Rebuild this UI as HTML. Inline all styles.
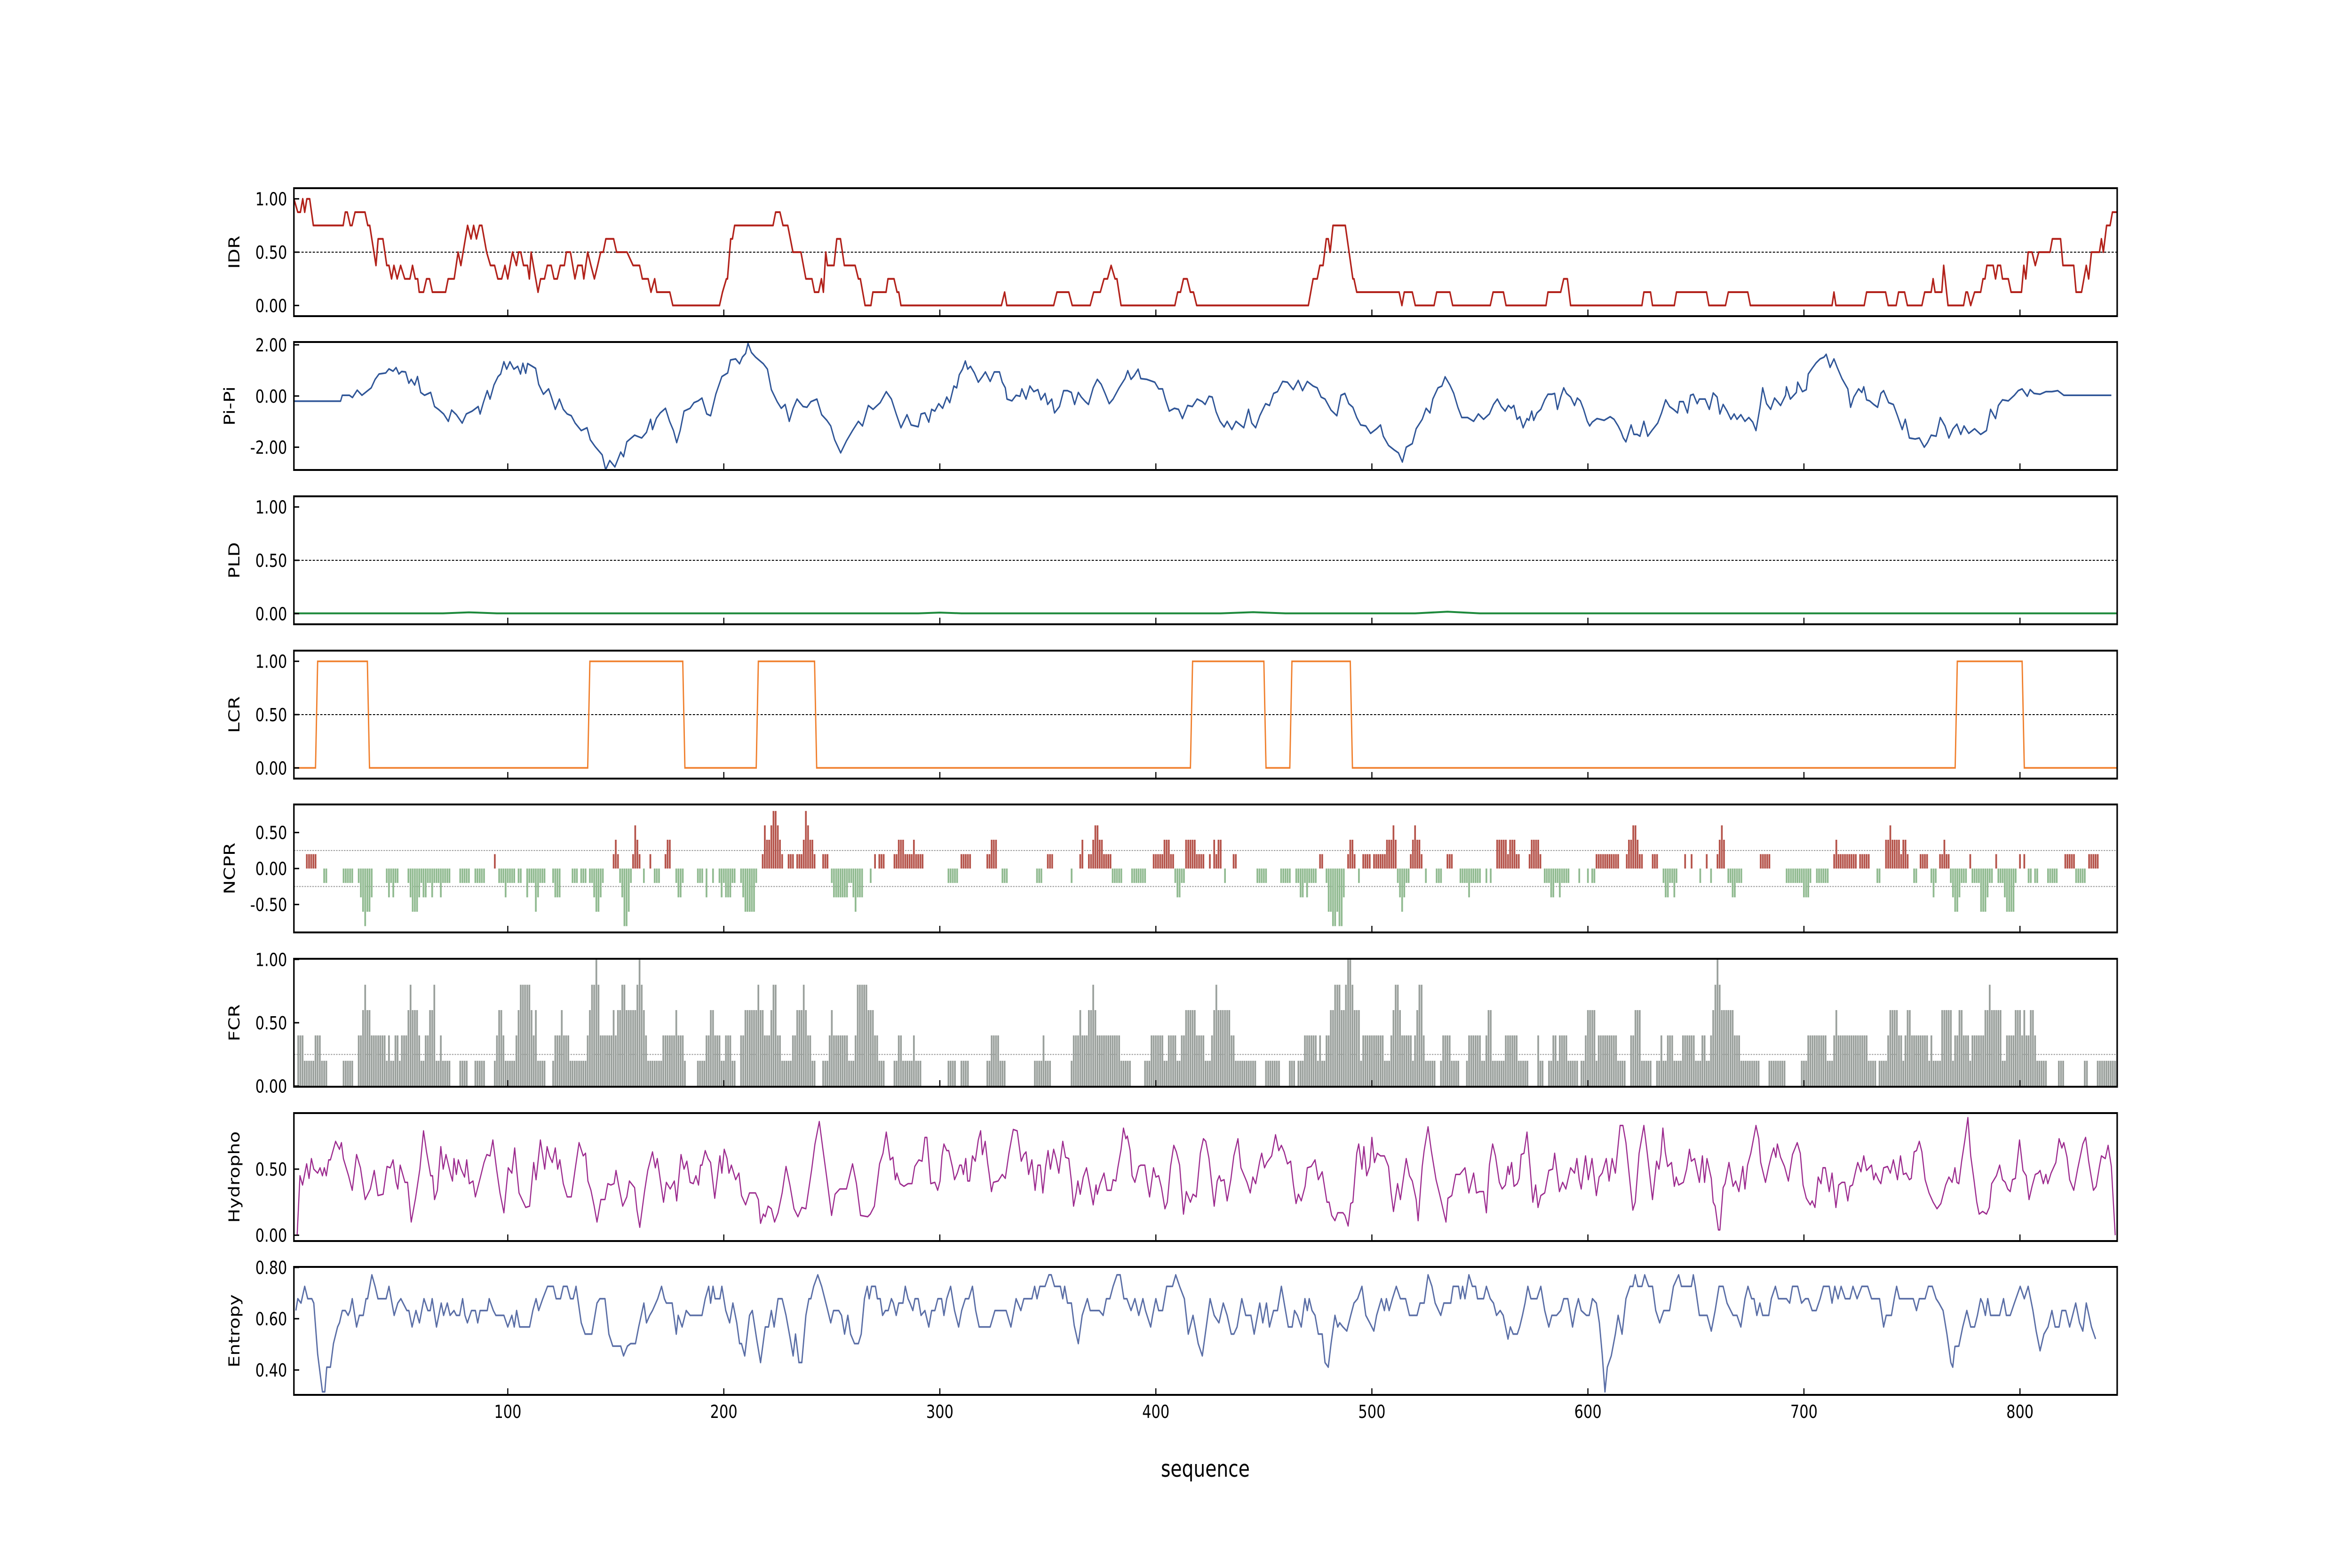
<!DOCTYPE html>
<html><head><meta charset="utf-8"><title>Sequence feature profiles</title>
<style>
html,body{margin:0;padding:0;background:#fff;width:100%;height:100%;overflow:hidden;}
svg{display:block;width:100vw;height:100vh;font-family:"DejaVu Sans","Liberation Sans",sans-serif;}
</style></head>
<body>
<svg id="chart" xmlns="http://www.w3.org/2000/svg" viewBox="0 0 6250 3333" preserveAspectRatio="none">
<rect x="0" y="0" width="6250" height="3333" fill="#ffffff"/>
</svg>
<script>
// ---------- data ----------
const panelTitles = ["IDR","Pi-Pi","PLD","LCR","NCPR","FCR","Hydropho","Entropy"];
const xTickValues = [100,200,300,400,500,600,700,800];
const yTickValues = [[0,0.5,1],[-2,0,2],[0,0.5,1],[0,0.5,1],[-0.5,0,0.5],[0,0.5,1],[0,0.5],[0.4,0.6,0.8]];
const yTickLabels = [["0.00","0.50","1.00"],["-2.00","0.00","2.00"],["0.00","0.50","1.00"],["0.00","0.50","1.00"],["-0.50","0.00","0.50"],["0.00","0.50","1.00"],["0.00","0.50"],["0.40","0.60","0.80"]];
const yLimits = [[-0.1,1.1],[-2.89,2.11],[-0.1,1.1],[-0.1,1.1],[-0.888,0.89],[-0.005,1.005],[-0.044,0.924],[0.303,0.802]];
const refLines = [[0.5],[],[0.5],[0.5],[-0.25,0.25],[0.25],[],[]];

const idrResidue = [1,2.8,4,5.1,6,7,8.3,10,23.8,24.8,25.7,27.1,27.9,29.3,33.9,35.2,36.1,39,40,42.2,44,45,46.2,47.3,48.8,50.4,52.3,54.7,55.9,57.2,58.3,59,61,62.4,63.8,65.1,71.2,72.4,75.2,77,78.3,81.4,83,84.2,85.5,86.9,88,90.2,92,93.9,95.4,97.2,98.7,100,102.2,104,105,106,107.3,109.1,110,110.8,114,115.2,117,118.3,120.1,121.4,122.9,124.3,126.2,127.1,129,131.1,132.4,134.4,135.2,137,138.5,140.1,141.6,143,144.2,145.4,149,150.4,155.2,158,161,162.3,165,166.3,168,169,175,176.4,198,199.4,201.2,201.7,203.2,204,205,222.8,224,226,227.4,229.6,232,235.7,238,240.8,242,243.9,245.2,246.1,247.2,248,251,252.3,254,255.8,260.8,262.3,263.2,265.4,268.1,269,275.1,276,278.8,280.2,281,282,328.5,330,331,352.7,354.2,359.7,361.3,369.6,371.2,374.3,376,377.6,379.3,381.1,382,383.9,408.8,410.1,411.4,412.8,414.5,416,417.4,418.9,470.6,472.8,474.7,475.9,477.4,478.9,479.8,480.7,482,487.7,491.2,491.7,493,512.6,513.9,515,518.7,520.1,528.8,530,536.1,537.4,554.8,556.1,560.9,562.1,580.6,581.5,587.4,588.8,590.5,592,625,625.9,629,629.9,640,641,654.9,656,663.7,665,674,675.2,713,713.9,714.8,727.9,729,737.8,739,742.7,743.8,746.6,747.9,754.6,755.9,758.9,759.8,760.7,763.8,764.7,766.7,773.9,775,775.7,777.2,779,781.8,782.9,783.8,784.7,787.6,788.7,789.7,791,791.9,794.6,795.9,800.7,801.8,802.7,803.8,805.6,807.1,808.7,813.9,815,818.8,819.9,824.9,826,828.5,830.7,831.8,833.1,836.8,837.7,838.6,840.1,841.7,842.8,845];
const idrValue = [1,0.875,0.875,1,0.875,1,1,0.75,0.75,0.875,0.875,0.75,0.75,0.875,0.875,0.75,0.75,0.375,0.625,0.625,0.375,0.375,0.25,0.375,0.25,0.375,0.25,0.25,0.375,0.25,0.25,0.125,0.125,0.25,0.25,0.125,0.125,0.25,0.25,0.5,0.375,0.75,0.625,0.75,0.625,0.75,0.75,0.5,0.375,0.375,0.25,0.25,0.375,0.25,0.5,0.375,0.5,0.5,0.375,0.375,0.25,0.5,0.125,0.25,0.25,0.375,0.375,0.25,0.25,0.375,0.375,0.5,0.5,0.25,0.375,0.375,0.25,0.5,0.375,0.25,0.375,0.5,0.5,0.625,0.625,0.5,0.5,0.375,0.375,0.25,0.25,0.125,0.25,0.125,0.125,0,0,0.125,0.25,0.25,0.625,0.625,0.75,0.75,0.875,0.875,0.75,0.75,0.5,0.5,0.25,0.25,0.125,0.125,0.25,0.125,0.5,0.375,0.375,0.625,0.625,0.375,0.375,0.25,0.25,0,0,0.125,0.125,0.25,0.25,0.125,0.125,0,0,0.125,0,0,0.125,0.125,0,0,0.125,0.125,0.25,0.25,0.375,0.25,0.25,0,0,0.125,0.125,0.25,0.25,0.125,0.125,0,0,0.25,0.25,0.375,0.375,0.625,0.625,0.5,0.75,0.75,0.25,0.25,0.125,0.125,0,0.125,0.125,0,0,0.125,0.125,0,0,0.125,0.125,0,0,0.125,0.125,0.25,0.25,0,0,0.125,0.125,0,0,0.125,0.125,0,0,0.125,0.125,0,0,0.125,0,0,0.125,0.125,0,0,0.125,0.125,0,0,0.125,0.125,0.25,0.125,0.125,0.375,0,0,0.125,0.125,0,0.125,0.125,0.25,0.25,0.375,0.375,0.25,0.375,0.375,0.25,0.25,0.125,0.125,0.375,0.25,0.5,0.5,0.375,0.5,0.5,0.625,0.625,0.375,0.375,0.125,0.125,0.375,0.25,0.5,0.5,0.625,0.5,0.75,0.75,0.875,0.875];

const pipiResidue = [1,22.6,23.4,26.7,28.1,30.3,32.5,34.9,36.8,38.6,40.4,43.5,45,46.9,48.3,49.6,50.9,52.7,54.2,55.3,56.9,58.2,59.7,61.5,64.3,66.1,67.9,70.3,72.5,74,76.2,78.9,80.8,83.5,86.3,87.2,88.7,90.5,91.8,93.6,95.5,96.7,98.2,99.5,101,102.8,104.6,105.9,107,108.3,109.2,112.9,114.3,116.5,118.9,120.2,122,123.9,125.7,127.5,129.4,131.2,134,136.7,138.2,140.4,143.7,145.3,147.2,149.6,152.3,153.6,155.1,158.7,162,164.2,166.1,167,168.8,170.6,173,174.9,176.7,178.2,179.8,181.6,184.4,186.2,188.1,189.9,192.1,193.9,196.3,199.1,201.8,203.1,205.5,207.3,208.6,210.1,211.2,212.8,214.7,218.3,220.2,222,224.7,226.6,228.4,230.3,232.1,233.9,236.7,238.5,240.3,243.1,245.3,247.7,249.5,251.3,254.1,256.8,259.6,262.3,264.2,266.9,269.1,272.4,275.2,277.6,279.8,282,
283,284.8,286.7,290,291.3,293.1,294.9,296.2,297.7,299.5,301.3,303.2,304.6,306.5,307.8,309,310.5,311.8,312.9,314.2,316,317.8,319.7,321.1,323.3,325.2,327.6,328.9,330.3,331.1,333.4,335.3,337.1,338,339.9,341.7,343.5,345.4,346.8,348.7,349.9,351.8,353.1,355.4,357.3,359.1,360.9,362.4,364.1,365.5,367.4,368.8,371,372.9,374.7,376.5,378.4,380.2,383,385.7,387,388.5,389.9,391.8,393,395.8,399.5,401.3,403.1,404.4,406.2,408.6,410.5,412.3,414.7,416.9,419.1,421.5,422.8,424.6,426.1,427.9,429.7,431.6,433,435.2,437.1,440.7,442.9,444.4,446.2,448.1,450.8,452.6,454.5,456.3,458.7,460.9,463.6,465.9,467.9,470.1,472.8,474.7,476.5,478.3,481.1,483.8,485.7,487.5,489.3,491.2,493,494.8,497.2,499.4,502.2,504,505.3,507.7,510.4,512.3,514.1,515.9,518.7,520.5,523.3,525.1,526.9,528.2,530.6,532.4,533.9,536.1,537.9,539.8,541.6,544.3,547.1,549.3,551.7,554.4,556.3,558.1,559.9,
561.7,563.2,564.5,565.7,567.2,568.5,570,571.8,572.7,574,574.9,576.4,578.2,580,581.5,583.3,584.6,585.9,587.4,588.8,590.1,592,593.8,595.1,596.5,598,599.7,600.8,602,604.2,605.7,607.5,610.3,612.1,614,615.3,616.4,617.6,620,621.3,622.8,624.1,625.9,627.7,629.6,632.3,634.1,636,637.8,639.6,641.5,642.4,644.2,646.1,647.5,648.8,650.6,651.6,654.3,656.2,658,659.8,661.1,662.6,664.4,666.2,667.7,669,670.8,672.7,674.5,676.3,677.8,679.6,680.9,682.7,684.6,686.4,689.2,691.5,691.9,693.7,696.5,697.1,699.3,701.1,702,703.8,705.7,707.5,709.3,710.3,712.1,713.9,715.4,717.6,720.3,721.6,723.1,725.3,726.8,727.7,729,730.4,732.3,734.1,735.6,736.9,739.2,741.4,743.3,745.5,746.9,748.8,751.5,753.4,755.7,757.2,758.9,761.2,763.1,765.3,767.1,769,770.8,772.6,774.1,776.3,779,781.8,784.5,786.4,788.7,790,791.9,794.6,797.4,799.2,801,803.4,804.7,806.5,809.3,812,814.8,817.5,820.3,842.3];
const pipiValue = [-0.2,-0.2,0.03,0.03,-0.06,0.23,0.03,0.19,0.32,0.65,0.86,0.9,1.06,0.97,1.11,0.86,0.96,0.94,0.5,0.65,0.43,0.76,0.14,0.03,0.14,-0.41,-0.52,-0.7,-0.99,-0.55,-0.73,-1.06,-0.7,-0.59,-0.41,-0.7,-0.26,0.21,-0.12,0.43,0.76,0.86,1.34,1.05,1.34,1.05,1.16,0.86,1.28,0.89,1.27,1.08,0.46,0.07,0.28,-0.04,-0.52,-0.12,-0.52,-0.7,-0.77,-1.06,-1.35,-1.24,-1.71,-1.97,-2.3,-2.88,-2.52,-2.77,-2.19,-2.37,-1.79,-1.53,-1.64,-1.42,-0.91,-1.31,-0.87,-0.66,-0.48,-0.99,-1.35,-1.82,-1.35,-0.59,-0.48,-0.26,-0.19,-0.08,-0.7,-0.77,0.07,0.76,0.9,1.41,1.45,1.26,1.52,1.66,2.06,1.7,1.52,1.26,1.05,0.25,-0.22,-0.48,-0.33,-0.99,-0.48,-0.12,-0.41,-0.44,-0.22,-0.12,-0.73,-0.95,-1.17,-1.71,-2.22,-1.75,-1.35,-0.99,-1.17,-0.37,-0.52,-0.26,0.17,-0.12,-0.7,-1.24,
-1.06,-0.73,-1.13,-1.2,-0.7,-0.66,-1.02,-0.52,-0.59,-0.3,-0.48,-0.04,-0.26,0.39,0.32,0.83,1.05,1.37,1.05,1.16,0.9,0.54,0.76,0.94,0.57,0.94,0.94,0.54,0.32,-0.12,-0.19,0.03,-0.01,0.28,-0.12,0.39,0.17,0.25,-0.15,0.1,-0.33,-0.12,-0.66,-0.41,0.21,0.21,0.14,-0.33,0.14,-0.04,-0.22,-0.33,0.32,0.65,0.46,0.1,-0.3,-0.12,0.32,0.68,0.99,0.65,0.79,1.05,0.68,0.65,0.54,0.28,0.28,-0.12,-0.59,-0.48,-0.52,-0.88,-0.37,-0.41,-0.12,-0.22,-0.33,-0.01,-0.04,-0.62,-0.99,-1.21,-0.99,-1.31,-0.99,-1.24,-0.52,-1.06,-1.24,-0.77,-0.3,-0.37,0.1,0.17,0.57,0.54,0.25,0.61,0.21,0.57,0.39,0.32,-0.04,-0.12,-0.55,-0.77,0.03,0.1,-0.3,-0.44,-0.84,-1.13,-1.17,-1.46,-1.28,-1.13,-1.57,-1.93,-2.11,-2.22,-2.58,-2,-1.86,-1.28,-0.91,-0.48,-0.66,-0.12,0.32,0.39,0.75,0.43,0.1,-0.44,-0.84,-0.84,-0.99,-0.7,-0.91,-0.7,-0.33,-0.12,-0.41,
-0.59,-0.37,-0.48,-0.37,-0.91,-0.81,-1.24,-0.88,-0.95,-0.59,-0.95,-0.66,-0.52,-0.15,0.07,0.07,0.1,-0.52,-0.04,0.32,0.1,-0.04,-0.37,-0.08,-0.19,-0.52,-0.99,-1.17,-1.02,-0.88,-0.91,-0.95,-0.81,-0.91,-1.17,-1.39,-1.64,-1.79,-1.13,-1.5,-1.5,-1.57,-0.99,-1.57,-1.35,-1.06,-0.66,-0.15,-0.41,-0.52,-0.66,-0.22,-0.22,-0.66,0.03,0.07,-0.3,-0.12,-0.12,-0.52,0.12,-0.04,-0.7,-0.33,-0.59,-0.91,-0.7,-0.91,-0.73,-0.99,-0.84,-1.02,-1.35,-0.48,0.32,-0.3,-0.52,-0.08,-0.37,0.03,0.36,-0.12,0.14,0.54,0.17,0.25,0.86,1.08,1.3,1.45,1.52,1.63,1.12,1.45,1.12,0.68,0.28,-0.44,-0.04,0.28,0.14,0.36,-0.15,-0.19,-0.33,-0.44,0.1,0.21,-0.26,-0.33,-0.77,-1.31,-0.91,-1.64,-1.68,-1.64,-2,-1.82,-1.53,-1.57,-0.84,-1.17,-1.64,-1.28,-1.1,-1.5,-1.17,-1.46,-1.28,-1.5,-1.35,-0.52,-0.88,-0.37,-0.15,-0.19,0.03,0.21,0.28,-0.01,0.25,0.1,0.07,0.17,0.17,0.21,0.03,0.03];

const pldResidue = [1,70,82,95,290,300,310,430,445,460,520,535,550,845];
const pldValue = [0.003,0.003,0.012,0.003,0.003,0.01,0.003,0.003,0.014,0.003,0.003,0.018,0.003,0.003];

const lcrStart = [11,137,215,416,462,770];
const lcrEnd = [35,181,242,450,490,801];

const ncprFrom = [7,10,15,24,31,32,33,34,35,37,44,45,46,47,48,54,55,56,59,60,61,63,65,66,69,70,78,85,94,96,99,100,105,109,110,113,114,115,121,122,130,134,138,140,141,143,144,149,150,151,152,153,154,156,157,158,159,160,161,163,166,168,173,174,178,179,181,188,192,195,198,199,200,201,204,208,209,210,215,218,219,220,222,223,225,226,227,230,234,237,238,239,240,242,246,250,251,258,260,261,262,268,270,272,279,281,284,288,289,304,310,322,324,329,345,350,361,365,366,369,371,372,374,376,380,389,399,404,407,409,410,412,414,419,425,427,428,429,432,436,447,458,465,467,469,470,471,476,479,480,482,484,485,487,489,490,492,494,496,501,507,510,511,512,513,514,515,516,518,519,520,521,523,525,530,535,541,545,546,553,555,558,563,564,567,573,574,578,580,583,585,587,588,596,600,602,604,609,618,619,621,623,624,630,635,636,638,640,641,645,648,652,655,657,660,661,662,663,665,667,669,680,692,697,700,703,706,714,715,716,726,734,738,740,741,745,746,748,751,754,759,760,761,763,765,766,768,769,770,772,773,777,778,782,785,786,789,790,793,794,798,800,802,804,807,813,821,826,832];
const ncprTo = [9,11,16,28,31,32,33,34,36,37,44,45,46,47,49,54,55,58,59,60,62,64,65,68,69,73,82,89,94,98,99,103,106,109,112,113,114,117,121,124,132,136,139,140,142,143,144,149,150,151,152,153,155,156,157,158,159,160,161,163,166,170,173,175,178,180,181,190,192,195,198,199,200,203,205,208,209,214,215,218,219,221,222,224,225,226,227,232,236,237,238,239,241,242,248,250,257,259,260,261,264,268,270,274,280,283,287,288,292,308,314,323,326,331,347,352,361,365,366,370,371,373,375,379,384,395,403,406,408,409,411,413,418,422,425,427,428,430,432,437,451,462,466,468,469,470,474,477,479,481,483,484,486,487,489,491,492,494,499,506,509,510,511,512,513,514,515,517,518,519,520,522,523,525,532,537,544,545,550,553,555,562,563,566,568,573,577,578,582,584,586,587,591,596,600,603,608,614,618,620,622,623,625,632,635,637,639,640,641,645,648,652,655,657,660,661,662,663,666,668,671,684,696,699,702,703,711,714,715,724,730,735,739,740,744,745,747,748,752,757,759,760,761,764,765,767,768,769,771,772,775,777,781,784,785,787,789,792,793,797,798,800,802,805,808,817,825,830,836];
const ncprValue = [0.2,0.2,-0.2,-0.2,-0.2,-0.4,-0.6,-0.8,-0.6,-0.4,-0.2,-0.4,-0.2,-0.4,-0.2,-0.2,-0.4,-0.6,-0.4,-0.2,-0.4,-0.2,-0.4,-0.2,-0.4,-0.2,-0.2,-0.2,0.2,-0.2,-0.4,-0.2,-0.2,-0.4,-0.2,-0.6,-0.4,-0.2,-0.2,-0.4,-0.2,-0.2,-0.2,-0.4,-0.6,-0.4,-0.2,0.2,0.4,0.2,-0.2,-0.4,-0.8,-0.6,-0.2,0.2,0.6,0.4,0.2,-0.2,0.2,-0.2,0.2,0.4,-0.2,-0.4,-0.2,-0.2,-0.4,-0.2,-0.2,-0.4,-0.2,-0.4,-0.2,-0.2,-0.4,-0.6,-0.2,0.2,0.6,0.4,0.6,0.8,0.6,0.4,0.2,0.2,0.2,0.4,0.8,0.6,0.4,0.2,0.2,-0.2,-0.4,-0.2,-0.4,-0.6,-0.4,-0.2,0.2,0.2,0.2,0.4,0.2,0.4,0.2,-0.2,0.2,0.2,0.4,-0.2,-0.2,0.2,-0.2,0.2,0.4,0.2,0.4,0.6,0.4,0.2,-0.2,-0.2,0.2,0.4,0.2,-0.2,-0.4,-0.2,0.4,0.2,0.2,0.4,0.2,0.4,-0.2,0.2,-0.2,-0.2,-0.2,-0.4,-0.2,-0.4,-0.2,0.2,-0.2,-0.6,-0.8,-0.6,-0.8,-0.4,0.2,0.4,0.2,-0.2,0.2,0.2,0.4,0.6,0.4,-0.2,-0.4,-0.6,-0.4,-0.2,0.2,0.4,0.6,0.4,0.2,-0.2,-0.2,0.2,-0.2,-0.4,-0.2,-0.2,-0.2,0.4,0.2,0.4,0.2,0.2,0.4,0.2,-0.2,-0.4,-0.2,-0.4,-0.2,-0.2,-0.2,-0.2,0.2,0.2,0.2,0.4,0.6,0.4,0.2,0.2,-0.2,-0.4,-0.2,-0.4,-0.2,0.2,0.2,-0.2,0.2,-0.2,0.2,0.4,0.6,0.4,-0.2,-0.4,-0.2,0.2,-0.2,-0.2,-0.4,-0.2,-0.2,0.2,0.4,0.2,0.2,-0.2,0.4,0.6,0.4,0.2,0.4,0.2,-0.2,0.2,-0.2,-0.4,-0.2,0.2,0.4,0.2,-0.2,-0.4,-0.6,-0.4,-0.2,0.2,-0.2,-0.6,-0.4,-0.2,0.2,-0.2,-0.4,-0.6,-0.2,0.2,0.2,-0.2,-0.2,-0.2,0.2,-0.2,0.2];

const fcrStart = [3,6,11,14,17,24,29,31,33,34,35,37,44,45,46,48,50,51,54,55,56,59,60,62,64,66,67,69,70,74,78,82,85,90,94,95,96,98,99,104,105,106,111,112,113,114,118,121,122,125,126,129,137,138,139,141,142,143,149,150,151,153,155,160,161,162,163,164,165,172,178,179,182,183,188,192,194,196,199,201,204,206,208,210,216,217,219,222,223,225,227,232,234,237,238,239,241,243,246,249,250,251,258,261,262,267,270,272,275,279,281,283,288,289,292,304,308,310,314,322,324,328,331,344,348,349,352,361,362,365,366,369,371,372,373,375,384,389,395,398,404,406,410,412,414,419,423,426,427,428,429,435,437,447,451,458,462,465,466,469,475,476,477,479,481,483,486,488,489,491,492,495,496,506,509,510,511,513,514,519,520,521,522,524,525,530,532,533,537,541,544,545,551,553,554,556,562,566,568,573,577,578,580,582,584,586,587,591,596,597,599,600,604,605,614,618,620,622,625,630,632,634,635,637,640,644,650,653,655,657,658,659,660,661,662,668,671,680,684,692,699,702,711,714,715,716,730,734,735,739,740,744,746,747,748,750,758,759,760,764,769,770,772,774,777,778,784,786,787,792,794,798,801,802,803,805,807,808,813,818,821,830,832,836];
const fcrValue = [0.4,0.2,0.4,0.2,0,0.2,0,0.4,0.6,0.8,0.6,0.4,0.2,0.4,0.2,0.4,0.2,0.4,0.6,0.8,0.6,0.4,0.2,0.4,0.6,0.8,0.2,0.4,0.2,0,0.2,0,0.2,0,0.2,0.4,0.6,0.4,0.2,0.4,0.6,0.8,0.6,0.4,0.6,0.2,0,0.2,0.4,0.6,0.4,0.2,0.4,0.6,0.8,1,0.8,0.4,0.6,0.4,0.6,0.8,0.6,0.8,1,0.8,0.6,0.4,0.2,0.4,0.6,0.4,0.2,0,0.2,0.4,0.6,0.4,0.2,0.4,0.2,0,0.4,0.6,0.8,0.6,0.4,0.6,0.8,0.4,0.2,0.4,0.6,0.8,0.6,0.4,0.2,0,0.2,0.4,0.6,0.4,0.2,0.4,0.8,0.6,0.4,0.2,0,0.2,0.4,0.2,0.4,0.2,0,0.2,0,0.2,0,0.2,0.4,0.2,0,0.2,0.4,0.2,0,0.2,0.4,0.6,0.4,0.6,0.8,0.6,0.4,0.4,0.2,0,0.2,0.4,0.2,0.4,0.2,0.4,0.6,0.4,0.2,0.4,0.6,0.8,0.6,0.4,0.2,0,0.2,0,0.2,0,0.2,0.4,0.2,0.4,0.2,0.4,0.6,0.8,0.6,0.8,1,0.8,0.6,0.2,0.4,0.2,0.4,0.6,0.8,0.6,0.4,0.2,0.4,0.6,0.8,0.4,0.2,0,0.2,0.4,0.2,0,0.2,0.4,0.2,0.4,0.6,0.2,0.4,0.4,0.2,0,0.4,0.2,0,0.2,0.4,0.2,0.4,0.2,0,0.2,0.4,0.6,0.2,0.4,0.2,0,0.4,0.6,0.2,0,0.2,0.4,0.2,0.4,0.2,0.4,0.2,0.4,0.2,0.4,0.6,0.8,1,0.8,0.6,0.4,0.2,0,0.2,0,0.2,0.4,0.2,0.4,0.6,0.4,0.2,0,0.2,0.4,0.6,0.4,0.2,0.4,0.6,0.4,0.2,0.4,0.2,0.6,0.2,0.4,0.6,0.4,0.2,0.4,0.6,0.8,0.6,0.2,0.4,0.6,0.4,0.6,0.4,0.6,0.4,0.2,0,0.2,0,0.2,0,0.2,0];

const hydroResidue = [2.5,3.8,5,6.9,8,9.1,10.2,12,13.1,14.2,15.1,16,17.1,17.9,20.3,22.1,23,23.9,26.3,28,30,31.8,34,36.4,38.2,39.9,42.3,44.1,45.6,46.9,48.3,49.1,50.2,52.4,53.6,55.3,57.3,59.3,61,62.4,64.3,65.2,66.1,67.4,69,70.1,71.4,73.4,74.4,75.1,76.2,77.1,78.4,80,81,82.2,83.9,85,87.2,89,90.3,91.8,93.1,94.9,96.4,98.2,100.2,101.9,103.2,104.1,105.2,108.3,110.1,112,113.1,115.1,117.1,118.2,119.3,120.6,122,123.1,124.1,125.7,127.5,129.4,131.2,133,134.9,136,137.1,138.5,140,141.3,143.1,145,146.3,147.7,149.2,150.1,151.4,153.2,155.1,156.3,158.7,159.8,161.1,163.3,164.8,167,168.3,169.2,170.6,172.1,173.4,175.2,177.1,178.2,180.2,181.6,182.9,184.4,185.9,187.1,188.3,189.2,189.9,191.4,192.7,193.9,195.8,198.2,199.1,200.2,201.5,202.4,203.5,205.5,207,208.2,210.1,211.9,214.7,216,217,218.3,219.2,220.5,222,223.5,225.1,227,228.8,230.6,232.5,234.3,236.1,238,240.7,242.2,244.2,245.8,247.7,249.9,251.5,253.7,256.8,259.6,261.4,263.3,266.6,267.8,269.7,272.1,273.7,275.2,277,278.3,279.4,280.1,281.6,283.4,285.3,287.1,288.4,
290.3,291.8,293.1,294,295.8,297.7,299,300.1,301,301.9,303.2,304.1,305.9,306.8,308.1,309.2,310,310.9,312,312.9,313.8,315.1,316.4,317.8,318.9,319.7,321,322.1,322.8,323.9,324.8,327,328.9,330.3,332,333.1,334,335.8,337.7,338.9,339.9,341.1,342.6,344.1,345.4,346.5,347.7,349,350.1,351.2,352.7,353.8,355.1,356.9,358.2,359.7,360.9,361.9,363.1,363.9,365,366.4,367.9,369.6,371,372.3,372.9,374.2,376,377.4,379.3,380.2,381.5,382.4,383.9,385,386.1,386.8,388.1,389,390.3,392.1,393,394.9,396,397.1,398.9,400,401.3,402.6,404.2,405.3,406.8,408.3,409.5,411,412.8,414.1,416,417.2,418.7,420.6,422,423.1,424.6,427,428.4,429.4,430.1,431.6,433,434.7,436.1,438,439.4,442.2,443.7,444.9,446.2,448.1,449,450.3,451.4,453.6,455.4,456.9,458.1,459.4,460.9,462.4,463.6,464.9,466,467.3,469.1,470.1,471.9,473.7,475.2,477,479.2,480.2,481.4,482.9,484.2,486.6,487.5,489,490.2,491.2,493,493.9,495.4,496.3,497.6,499,500,501.2,502.5,504,505.8,507.7,508.9,510,511.9,513.2,515.9,517.4,518.7,520.5,521.4,523.3,524.2,526,527.5,529.7,531.5,533.3,534.3,535.2,537,538.8,540.7,543.1,544.9,547.1,548.4,549.8,551.7,553,554.4,555.9,557.2,559,560.3,561.8,563,563.6,564.7,565.8,567.3,568.2,569.1,570.4,
571.8,573.3,574.5,575.8,576.9,578.2,580,581.9,583.7,584.6,586.8,588.3,589.8,592,593.8,594.9,596,596.9,598.9,600.2,601.9,603.9,605.2,606.6,608.5,609.8,611.2,612.7,614.9,616.2,617.6,620.8,621.9,623.7,625.9,627.4,629.9,631.8,632.9,633.8,634.7,635.8,636.9,638.7,640,640.9,642,644.2,645.7,647,647.9,649.4,651.6,653,654,655.1,657.1,658,658.9,660.4,661.1,662.6,663.5,665.3,667.2,668.4,669.9,671.7,672.7,673.9,675.4,676.9,677.8,679.1,680,682.2,683.7,684.9,686,687,687.7,689.2,691,692.8,694.7,696.9,698.3,699.6,701.1,702.9,703.8,705.1,706.6,707.9,708.8,709.9,711.7,713,714.8,716.1,717.6,718.9,720.3,721.3,722.5,724,724.9,726.4,727.7,729,730.1,731.3,732.3,733.2,734.5,735.6,736.9,738.7,740,741.4,743.3,744.7,746,747.3,748.8,749.7,751,752.1,753.4,754.6,756.1,757.9,759.8,761.6,763.4,765.6,767.1,768.6,769.9,770.8,771.7,773,774.5,775.9,777.2,778.7,780,781.1,782.7,784.5,785.8,786.9,789.1,790.6,791.9,793.2,794.3,795.5,796.5,797.9,799.8,801.4,802.9,804.2,805.6,807.1,808.4,809.3,810.8,812,812.9,814.4,816.6,818.1,819.4,820.3,821.8,823,824.9,826.7,829.1,830.4,831.8,834,835.3,836.8,837.7,839.5,840.8,842.3,844.1];
const hydroValue = [0,0.45,0.38,0.54,0.43,0.58,0.5,0.47,0.51,0.45,0.51,0.45,0.57,0.57,0.71,0.65,0.7,0.58,0.45,0.34,0.61,0.51,0.27,0.35,0.49,0.3,0.31,0.52,0.51,0.57,0.4,0.35,0.53,0.4,0.4,0.1,0.28,0.5,0.79,0.63,0.45,0.45,0.27,0.34,0.67,0.5,0.61,0.47,0.41,0.58,0.46,0.57,0.5,0.44,0.57,0.39,0.41,0.29,0.43,0.55,0.61,0.6,0.72,0.49,0.32,0.17,0.51,0.47,0.66,0.5,0.32,0.21,0.22,0.55,0.42,0.72,0.5,0.67,0.6,0.55,0.66,0.5,0.57,0.39,0.29,0.29,0.5,0.7,0.6,0.62,0.41,0.34,0.22,0.1,0.27,0.27,0.39,0.38,0.39,0.49,0.37,0.22,0.29,0.41,0.36,0.19,0.06,0.33,0.49,0.63,0.51,0.58,0.42,0.25,0.4,0.35,0.41,0.26,0.61,0.5,0.56,0.4,0.39,0.45,0.38,0.53,0.53,0.64,0.58,0.55,0.28,0.6,0.47,0.65,0.58,0.47,0.53,0.42,0.47,0.3,0.23,0.32,0.32,0.27,0.09,0.16,0.14,0.22,0.2,0.1,0.17,0.32,0.52,0.38,0.2,0.14,0.21,0.2,0.5,0.69,0.86,0.66,0.43,0.15,0.31,0.35,0.35,0.54,0.39,0.15,0.14,0.16,0.22,0.54,0.62,0.78,0.57,0.59,0.42,0.47,0.39,0.37,0.39,0.39,0.52,
0.57,0.56,0.74,0.74,0.39,0.4,0.34,0.41,0.6,0.69,0.64,0.64,0.51,0.42,0.47,0.53,0.53,0.46,0.58,0.41,0.41,0.6,0.56,0.72,0.79,0.61,0.71,0.55,0.47,0.33,0.4,0.41,0.46,0.43,0.62,0.72,0.8,0.79,0.56,0.61,0.63,0.46,0.57,0.34,0.53,0.53,0.32,0.52,0.64,0.5,0.65,0.58,0.47,0.71,0.59,0.58,0.41,0.22,0.32,0.41,0.31,0.44,0.51,0.36,0.23,0.38,0.31,0.39,0.47,0.34,0.34,0.42,0.41,0.51,0.65,0.81,0.73,0.75,0.64,0.45,0.4,0.52,0.53,0.53,0.4,0.29,0.51,0.44,0.45,0.36,0.2,0.25,0.52,0.68,0.63,0.53,0.16,0.33,0.25,0.31,0.29,0.62,0.73,0.71,0.58,0.22,0.41,0.45,0.41,0.42,0.26,0.42,0.6,0.73,0.51,0.4,0.32,0.44,0.39,0.56,0.62,0.51,0.55,0.6,0.76,0.64,0.68,0.63,0.54,0.56,0.39,0.24,0.31,0.26,0.37,0.51,0.52,0.57,0.42,0.48,0.25,0.25,0.15,0.11,0.17,0.17,0.15,0.07,0.24,0.25,0.62,0.69,0.5,0.67,0.45,0.52,0.74,0.55,0.62,0.6,0.6,0.52,0.32,0.18,0.39,0.27,0.58,0.45,0.41,0.27,0.11,0.52,0.64,0.82,0.64,0.42,0.3,0.17,0.1,0.28,0.3,0.46,0.46,0.51,0.32,0.47,0.32,0.33,0.33,0.17,0.53,0.69,0.6,0.4,0.35,0.38,0.52,0.46,0.55,0.37,0.39,0.43,0.61,0.62,
0.78,0.5,0.25,0.38,0.21,0.3,0.32,0.49,0.5,0.62,0.33,0.4,0.35,0.51,0.47,0.58,0.42,0.35,0.6,0.42,0.58,0.3,0.44,0.47,0.58,0.41,0.58,0.47,0.83,0.83,0.7,0.19,0.25,0.62,0.83,0.63,0.27,0.56,0.5,0.61,0.81,0.63,0.52,0.55,0.37,0.44,0.38,0.4,0.5,0.65,0.56,0.58,0.4,0.6,0.4,0.58,0.43,0.25,0.22,0.04,0.04,0.36,0.39,0.55,0.37,0.41,0.33,0.52,0.35,0.53,0.62,0.75,0.83,0.73,0.55,0.4,0.52,0.6,0.66,0.59,0.69,0.59,0.52,0.41,0.61,0.7,0.62,0.38,0.28,0.23,0.26,0.21,0.44,0.39,0.51,0.51,0.33,0.47,0.21,0.38,0.4,0.4,0.26,0.37,0.38,0.49,0.55,0.48,0.6,0.49,0.51,0.53,0.42,0.47,0.42,0.39,0.51,0.52,0.47,0.57,0.42,0.6,0.46,0.47,0.42,0.43,0.63,0.64,0.71,0.63,0.42,0.32,0.25,0.2,0.24,0.38,0.44,0.4,0.51,0.4,0.39,0.56,0.72,0.89,0.6,0.42,0.25,0.16,0.18,0.16,0.21,0.39,0.45,0.53,0.42,0.4,0.35,0.33,0.42,0.43,0.72,0.49,0.45,0.27,0.37,0.46,0.47,0.49,0.39,0.46,0.39,0.47,0.55,0.73,0.66,0.7,0.59,0.42,0.34,0.5,0.69,0.74,0.56,0.34,0.37,0.52,0.6,0.58,0.68,0.52,0];

const entropyResidue = [1.9,2.8,4.3,6,7.4,9.3,10.2,12,14.2,15.3,16.2,17.9,19.3,21.2,22.1,23.4,24.8,26.1,27,28,30,31.3,33.1,34.4,35.1,37.1,38.6,39.9,43.7,45,47.4,49.1,50.5,53.3,54.2,55.7,57.5,59.1,61.2,63,64.1,65,67,69.2,70.3,72,73.3,75.1,76.2,77.7,79.1,80.2,81.3,83.2,85,86.1,87.2,90.5,91.4,93.3,94.5,98.2,100,101.9,103,104.1,105.5,110.1,111.6,113.1,114.3,116.2,118.4,121.1,122.4,124.4,125.7,127.5,129,130.3,131.6,134,135.8,138.9,141.3,142.6,145,146.8,148.6,152.3,153.6,155.4,156.9,159.1,160.6,163,164.2,165.7,167,169.4,171.2,172.5,173.4,176.1,178,178.9,180.7,182.6,184.4,189.9,191.4,193,193.9,195,196,198.2,199.1,200.9,202.7,204.2,206,207.3,208.2,209.7,211.9,213.2,215.2,217,219.2,220.7,222,223.3,225.1,227,228.8,230.6,232.1,233.2,234.8,236.1,238,239.4,240.3,241.6,243.5,245.3,247.7,249.5,250.8,253.2,254.5,255.9,257.4,258.7,260.5,262.3,263.6,265.1,266.4,267.3,268.4,270.2,271.1,272.4,273.5,274.8,276.1,277.6,278.5,279.8,281,282.9,284,285.3,286.2,287.5,
288.5,290,291.3,293.1,294.9,296.2,297.7,299.1,300.8,301.9,303.2,305,306.8,308.7,310.1,311.8,313.4,315.1,316.6,318.2,323.3,325.5,330.7,332.9,335.3,337.5,338.9,342.6,343.9,345,346.3,348.7,350.5,351.6,353.1,355.8,356.9,357.8,359.1,360.9,362.2,364.1,365.9,368.3,369.6,373.8,375.6,377.1,378.7,380.2,382,383.5,385.2,386.6,388.5,390.3,392.1,394,395.2,397.6,398.5,400,401.3,403.1,405,407.7,409.2,411,413.2,415,417.2,419.6,421.5,423.3,425.1,427,429.2,431.2,433,434.9,436.1,437.6,439.8,441.6,444,445.5,448.1,449.5,451.2,452.6,454.5,456.3,458.1,460,461.3,463.1,464.2,465.5,467.3,469,470.1,471,472.3,473.7,475.2,477,478.3,479.8,481.1,482.9,484.2,485.1,486.6,488.4,490.2,491.7,493.4,495.4,497.2,499,500.9,502.2,504.4,505.8,506.7,508,509.5,511.3,513.2,515.6,517.4,520.9,522.3,524.2,526,527.8,529.3,531.9,533.3,536.5,537.6,540.1,541,542,543.1,544.9,546.5,548,548.9,551.7,553,554.8,556.3,557.7,559.4,560.8,563,564.1,565.4,567.3,568.4,569.7,
570.9,572.2,573.6,576.4,578.2,580,581.9,583.3,585.5,587.4,588.8,590.7,592,592.9,594.2,595.6,596.9,599.3,600.6,602.1,603.9,605.3,606.6,607.9,609,610.8,612.7,614,615.8,617.6,619.5,620.8,621.9,623.1,625,626.3,628.1,629.9,631.4,633.2,635.1,637.8,639.6,642,643.3,647.9,648.8,649.7,651.6,655.2,657.1,658.9,660.7,662.6,664.4,667.2,669,670.8,672.7,674.1,675.8,676.9,678.2,679.6,680.9,683.7,684.9,686.8,688.2,691.9,693.4,694.7,697.1,698.9,700.7,702,703.8,705.7,707.5,709,711.7,713,714.3,715.8,717.2,719.1,721.3,722.7,724.6,726.8,729.5,731.3,735,736.9,738.1,740.5,741.8,742.9,744.2,750.6,752.1,753.4,756.1,757.6,759.4,761.2,762.5,764.4,766.2,768,768.9,769.9,771.7,773.5,775.4,777.2,779,780.3,781.8,782.7,784,785.1,786.4,790.6,792.4,793.7,795.5,797.4,800.1,802,803.8,806,807.5,809.3,811.1,813,814.8,816.3,818.1,819.4,821.2,823,825.8,827.6,829.1,830.7,833.1,835];
const entropyValue = [0.632,0.678,0.661,0.726,0.678,0.678,0.661,0.462,0.315,0.315,0.411,0.411,0.503,0.568,0.584,0.632,0.632,0.613,0.632,0.678,0.568,0.613,0.613,0.678,0.678,0.771,0.726,0.678,0.678,0.726,0.613,0.661,0.678,0.632,0.632,0.568,0.632,0.584,0.678,0.632,0.632,0.678,0.568,0.661,0.613,0.661,0.613,0.632,0.613,0.613,0.678,0.613,0.584,0.632,0.632,0.584,0.632,0.632,0.678,0.632,0.613,0.613,0.568,0.613,0.568,0.632,0.568,0.568,0.632,0.678,0.632,0.678,0.726,0.726,0.678,0.678,0.726,0.726,0.678,0.678,0.726,0.584,0.54,0.54,0.661,0.678,0.678,0.54,0.493,0.493,0.455,0.493,0.503,0.503,0.568,0.661,0.584,0.613,0.632,0.678,0.726,0.678,0.661,0.661,0.54,0.613,0.568,0.632,0.613,0.613,0.678,0.726,0.661,0.726,0.678,0.678,0.726,0.632,0.584,0.661,0.584,0.503,0.503,0.455,0.613,0.632,0.521,0.429,0.568,0.568,0.632,0.568,0.678,0.678,0.613,0.529,0.455,0.54,0.429,0.429,0.613,0.678,0.678,0.726,0.771,0.726,0.646,0.584,0.632,0.632,0.613,0.54,0.613,0.54,0.503,0.503,0.54,0.678,0.726,0.678,0.726,0.726,0.678,0.678,0.613,0.632,0.632,0.678,0.661,0.613,0.661,0.661,0.726,0.678,0.661,0.632,
0.678,0.678,0.613,0.632,0.568,0.632,0.632,0.678,0.678,0.613,0.678,0.726,0.632,0.568,0.632,0.678,0.678,0.726,0.632,0.568,0.568,0.632,0.632,0.568,0.678,0.632,0.678,0.678,0.726,0.678,0.726,0.726,0.771,0.771,0.726,0.726,0.678,0.726,0.661,0.661,0.574,0.503,0.613,0.678,0.632,0.632,0.613,0.678,0.678,0.726,0.771,0.771,0.678,0.678,0.632,0.678,0.613,0.678,0.632,0.568,0.613,0.678,0.632,0.632,0.726,0.726,0.771,0.726,0.678,0.54,0.613,0.503,0.455,0.566,0.678,0.613,0.584,0.661,0.613,0.54,0.54,0.568,0.678,0.613,0.613,0.54,0.661,0.584,0.661,0.568,0.632,0.632,0.726,0.632,0.568,0.568,0.632,0.613,0.568,0.678,0.632,0.678,0.632,0.613,0.54,0.54,0.429,0.411,0.503,0.613,0.568,0.584,0.568,0.552,0.613,0.661,0.678,0.726,0.613,0.584,0.552,0.613,0.678,0.632,0.678,0.632,0.678,0.726,0.678,0.678,0.613,0.613,0.661,0.661,0.771,0.726,0.661,0.613,0.661,0.661,0.726,0.726,0.678,0.726,0.678,0.771,0.726,0.726,0.678,0.678,0.726,0.678,0.661,0.613,0.632,0.613,0.521,0.568,0.54,0.54,0.568,0.613,
0.661,0.726,0.678,0.678,0.726,0.632,0.568,0.613,0.613,0.632,0.678,0.678,0.613,0.568,0.632,0.678,0.632,0.613,0.613,0.678,0.661,0.584,0.462,0.315,0.411,0.455,0.54,0.613,0.54,0.678,0.726,0.726,0.771,0.726,0.726,0.771,0.726,0.726,0.632,0.584,0.632,0.632,0.726,0.771,0.726,0.726,0.771,0.726,0.613,0.613,0.552,0.632,0.726,0.726,0.661,0.613,0.613,0.568,0.678,0.726,0.678,0.678,0.613,0.661,0.613,0.613,0.678,0.726,0.678,0.678,0.661,0.726,0.726,0.661,0.678,0.678,0.632,0.632,0.678,0.726,0.726,0.661,0.726,0.678,0.726,0.678,0.678,0.726,0.678,0.726,0.726,0.678,0.678,0.568,0.613,0.613,0.678,0.726,0.678,0.678,0.632,0.678,0.678,0.726,0.726,0.678,0.661,0.632,0.54,0.429,0.411,0.492,0.493,0.568,0.632,0.568,0.568,0.613,0.678,0.661,0.613,0.678,0.613,0.613,0.678,0.613,0.613,0.661,0.726,0.678,0.726,0.632,0.552,0.475,0.54,0.568,0.632,0.568,0.568,0.632,0.632,0.568,0.661,0.584,0.552,0.661,0.568,0.521];

// ---------- layout ----------
const svg = document.getElementById('chart');
const NS = 'http://www.w3.org/2000/svg';
const X0 = 781, X1 = 5626, XMIN = 1, XMAX = 845;
const panelTops = [400,727,1055,1383,1710,2038,2366,2693];
const PH = 272;
const labelX = [636,624,636,636,624,636,636,636];

function mk(tag, attrs, parent){
  const e = document.createElementNS(NS, tag);
  for (const k in attrs) e.setAttribute(k, attrs[k]);
  (parent || svg).appendChild(e);
  return e;
}
function xs(r){ return X0 + (r - XMIN) * (X1 - X0) / (XMAX - XMIN); }
function ys(p, v){ const lim = yLimits[p]; return panelTops[p] + (lim[1] - v) / (lim[1] - lim[0]) * PH; }
function linePath(p, xArr, yArr){
  const n = Math.min(xArr.length, yArr.length);
  let d = '';
  for (let i = 0; i < n; i++) d += (i ? 'L' : 'M') + xs(xArr[i]).toFixed(1) + ',' + ys(p, yArr[i]).toFixed(1);
  return d;
}

for (let p = 0; p < 8; p++) {
  const g = mk('g', {});
  
  
  const cp = mk('clipPath', {id: 'clip' + p}, g);
  mk('rect', {x: X0, y: panelTops[p], width: X1 - X0, height: PH}, cp);
  refLines[p].forEach(v => {
    const ref = mk('line', {x1: X0, x2: X1, y1: ys(p, v), y2: ys(p, v),
      stroke: (p === 4 || p === 5) ? '#999999' : '#000000', 'stroke-width': 2,
      'stroke-dasharray': (p === 4 || p === 5) ? '4,3' : '6,4'}, g);
    
    
  });
  const dg = mk('g', {'clip-path': 'url(#clip' + p + ')'}, g);
  
  

  if (p === 0) {
    const l = mk('path', {d: linePath(p, idrResidue, idrValue), fill: 'none', stroke: '#b2221b', 'stroke-width': 4, 'stroke-linejoin': 'round'}, dg);
    
    
  } else if (p === 1) {
    const l = mk('path', {d: linePath(p, pipiResidue, pipiValue), fill: 'none', stroke: '#2f5597', 'stroke-width': 3.5, 'stroke-linejoin': 'round'}, dg);
    
    
  } else if (p === 2) {
    const l = mk('path', {d: linePath(p, pldResidue, pldValue), fill: 'none', stroke: '#1e8a3c', 'stroke-width': 4}, dg);
    
    
  } else if (p === 3) {
    const lx = [XMIN], ly = [0];
    for (let i = 0; i < lcrStart.length; i++) {
      lx.push(lcrStart[i], lcrStart[i] + 1, lcrEnd[i], lcrEnd[i] + 1);
      ly.push(0, 1, 1, 0);
    }
    lx.push(XMAX); ly.push(0);
    const l = mk('path', {d: linePath(p, lx, ly), fill: 'none', stroke: '#f07f2c', 'stroke-width': 3.5}, dg);
    
    
  } else if (p === 4) {
    const bw = 0.8 * (X1 - X0) / (XMAX - XMIN);
    for (let i = 0; i < ncprFrom.length; i++) {
      const v = ncprValue[i];
      for (let r = ncprFrom[i]; r <= ncprTo[i]; r++) {
        const y0 = ys(p, 0), y1 = ys(p, v);
        const b = mk('rect', {x: (xs(r) - bw / 2).toFixed(1), y: Math.min(y0, y1).toFixed(1), width: bw.toFixed(1), height: Math.abs(y1 - y0).toFixed(1), fill: v > 0 ? '#b5534a' : '#90ba90'}, dg);
        
        
      }
    }
  } else if (p === 5) {
    const bw = 0.8 * (X1 - X0) / (XMAX - XMIN);
    for (let i = 0; i < fcrStart.length; i++) {
      const v = fcrValue[i];
      if (v <= 0) continue;
      const end = i + 1 < fcrStart.length ? fcrStart[i + 1] - 1 : XMAX;
      for (let r = fcrStart[i]; r <= end; r++) {
        const y0 = ys(p, 0), y1 = ys(p, v);
        const b = mk('rect', {x: (xs(r) - bw / 2).toFixed(1), y: y1.toFixed(1), width: bw.toFixed(1), height: (y0 - y1).toFixed(1), fill: '#9aa09c'}, dg);
        
        
      }
    }
  } else if (p === 6) {
    const l = mk('path', {d: linePath(p, hydroResidue, hydroValue), fill: 'none', stroke: '#9c2a8e', 'stroke-width': 3, 'stroke-linejoin': 'round'}, dg);
    
    
  } else if (p === 7) {
    const l = mk('path', {d: linePath(p, entropyResidue, entropyValue), fill: 'none', stroke: '#5a6ea6', 'stroke-width': 3.5, 'stroke-linejoin': 'round'}, dg);
    
    
  }

  const fr = mk('rect', {x: X0, y: panelTops[p], width: X1 - X0, height: PH, fill: 'none', stroke: '#000', 'stroke-width': 4}, g);
  
  

  yTickValues[p].forEach((v, k) => {
    const y = ys(p, v);
    const t = mk('line', {x1: X0, x2: X0 + 14, y1: y, y2: y, stroke: '#000', 'stroke-width': 3}, g);
    
    
    const tl = mk('text', {x: 763, y: y + 14, 'text-anchor': 'end', 'font-size': 38, fill: '#000'}, g);
    tl.textContent = yTickLabels[p][k];
    
    
  });
  xTickValues.forEach(v => {
    const x = xs(v), yb = panelTops[p] + PH;
    const t = mk('line', {x1: x, x2: x, y1: yb, y2: yb - 14, stroke: '#000', 'stroke-width': 3}, g);
    
    
    if (p === 7) {
      const tl = mk('text', {x: x, y: 3014, 'text-anchor': 'middle', 'font-size': 38, fill: '#000'}, g);
      tl.textContent = String(v);
      
      
    }
  });
  const cy = panelTops[p] + PH / 2;
  const yl = mk('text', {x: labelX[p], y: cy, 'text-anchor': 'middle', 'font-size': 40, fill: '#000',
    transform: 'rotate(-90 ' + labelX[p] + ' ' + cy + ')'}, g);
  yl.textContent = panelTitles[p];
  
  
}

const xl = mk('text', {x: 3203, y: 3139, 'text-anchor': 'middle', 'font-size': 49, fill: '#000'});
xl.textContent = 'sequence';


</script>
</body></html>
